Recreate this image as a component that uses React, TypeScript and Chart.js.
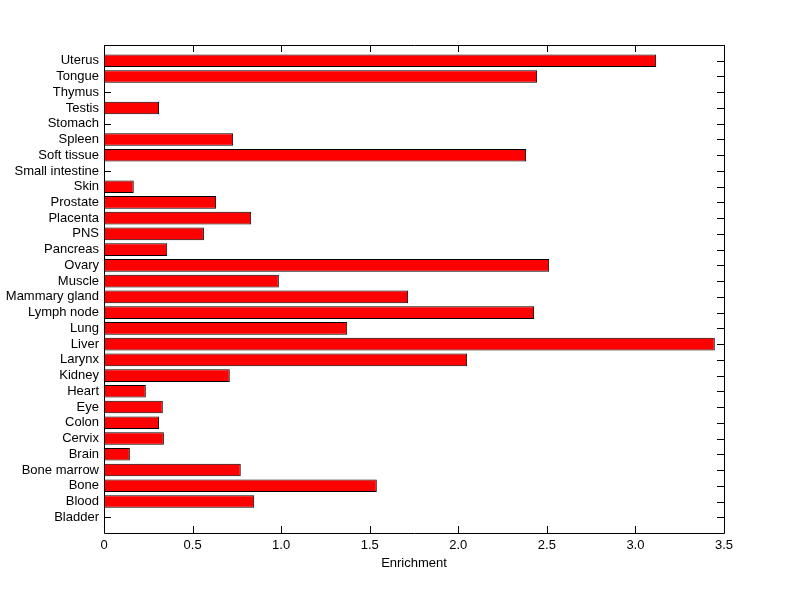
import React, { useEffect, useRef } from "react";
import { Chart, registerables } from "chart.js";

Chart.register(...registerables);

const tissues = [
  "Bladder", "Blood", "Bone", "Bone marrow", "Brain", "Cervix", "Colon", "Eye",
  "Heart", "Kidney", "Larynx", "Liver", "Lung", "Lymph node", "Mammary gland",
  "Muscle", "Ovary", "Pancreas", "PNS", "Placenta", "Prostate", "Skin",
  "Small intestine", "Soft tissue", "Spleen", "Stomach", "Testis", "Thymus",
  "Tongue", "Uterus",
];

const enrichment = [
  0, 0.848, 1.54, 0.772, 0.146, 0.338, 0.311, 0.332,
  0.236, 0.71, 2.05, 3.448, 1.373, 2.428, 1.717,
  0.987, 2.513, 0.357, 0.564, 0.831, 0.633, 0.168,
  0, 2.383, 0.729, 0, 0.311, 0,
  2.445, 3.117,
];

const xTicks = [0, 0.5, 1, 1.5, 2, 2.5, 3, 3.5];

const FONT = "'Liberation Sans', Arial, sans-serif";

const frameAndTicks = {
  id: "frameAndTicks",
  beforeDatasetsDraw(chart: any) {
    const { ctx, chartArea } = chart;
    const { left, right, top, bottom } = chartArea;
    const xs = chart.scales.x;
    const ys = chart.scales.y;
    const L = 7;
    ctx.save();
    ctx.strokeStyle = "#000";
    ctx.lineWidth = 1;
    ctx.beginPath();
    ctx.rect(left + 0.5, top + 0.5, right - left, bottom - top);
    for (const v of xTicks) {
      const px = Math.round(xs.getPixelForValue(v)) + 0.5;
      ctx.moveTo(px, bottom);
      ctx.lineTo(px, bottom - L);
      ctx.moveTo(px, top);
      ctx.lineTo(px, top + L);
    }
    tissues.forEach((_, i) => {
      const py = Math.round(ys.getPixelForValue(i + 1)) + 0.5;
      ctx.moveTo(left, py);
      ctx.lineTo(left + L, py);
      ctx.moveTo(right, py);
      ctx.lineTo(right - L, py);
    });
    ctx.stroke();
    ctx.restore();
  },
};

export default function App() {
  const ref = useRef<HTMLCanvasElement | null>(null);

  useEffect(() => {
    if (!ref.current) return;
    const chart = new Chart(ref.current, {
      type: "bar",
      data: {
        datasets: [
          {
            data: enrichment.map((v, i) => ({ x: v, y: i + 1 })),
            backgroundColor: "#ff0000",
            borderColor: "#000000",
            borderWidth: 1,
            borderSkipped: false,
            barPercentage: 0.8,
            categoryPercentage: 1,
          },
        ],
      },
      options: {
        indexAxis: "y",
        responsive: false,
        animation: false,
        layout: { padding: { top: 45, right: 76, left: 0, bottom: 0 } },
        plugins: {
          legend: { display: false },
          tooltip: { enabled: false },
          title: { display: false },
        },
        scales: {
          x: {
            type: "linear",
            min: 0,
            max: 3.5,
            offset: false,
            afterBuildTicks: (scale: any) => {
              scale.ticks = xTicks.map((v) => ({ value: v }));
            },
            grid: { display: false, drawTicks: false },
            border: { display: false },
            ticks: {
              padding: 5,
              color: "#000",
              font: { family: FONT, size: 13 },
              maxRotation: 0,
            },
            title: {
              display: true,
              text: "Enrichment",
              color: "#000",
              font: { family: FONT, size: 13 },
              padding: { top: 0, bottom: 28 },
            },
            afterFit: (scale: any) => {
              scale.height = 66;
            },
          },
          y: {
            type: "linear",
            min: 0,
            max: 31,
            offset: false,
            afterBuildTicks: (scale: any) => {
              scale.ticks = tissues.map((_, i) => ({ value: i + 1 }));
            },
            grid: { display: false, drawTicks: false, offset: false },
            border: { display: false },
            ticks: {
              padding: 5,
              color: "#000",
              autoSkip: false,
              font: { family: FONT, size: 13 },
              callback: (v: any) => tissues[Number(v) - 1] ?? "",
            },
            afterFit: (scale: any) => {
              scale.width = 104;
            },
          },
        },
      },
      plugins: [frameAndTicks],
    });
    return () => chart.destroy();
  }, []);

  return (
    <div style={{ position: "absolute", left: 0, top: 0, width: 800, height: 599, background: "#fff" }}>
      <canvas ref={ref} width={800} height={599} />
    </div>
  );
}
